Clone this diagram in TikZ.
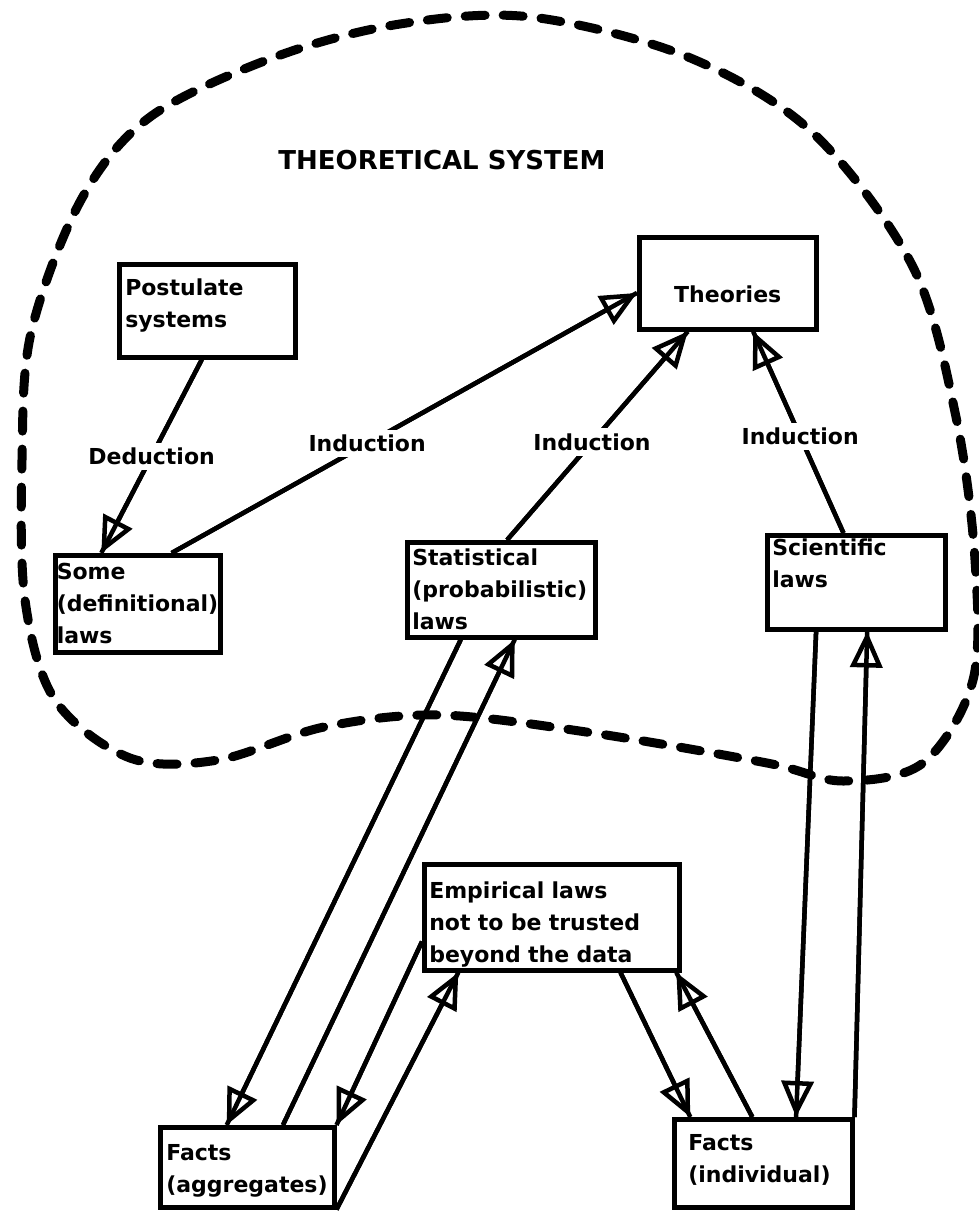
\documentclass[tikz,border=0pt]{standalone}
\usepackage{fontspec}
\setmainfont{DejaVu Sans}
\usetikzlibrary{arrows.meta,calc}
\newcommand{\bxfont}{\fontsize{22}{32}\selectfont\bfseries}
\newcommand{\ttlfont}{\fontsize{26}{30}\selectfont\bfseries}
\tikzset{
  box/.style  ={draw, line width=4.5pt, anchor=north west, inner xsep=6pt,
                inner ysep=0pt, align=left, font=\bxfont},
  lbl/.style  ={fill=white, inner sep=5pt, font=\bxfont},
  fl/.style   ={-{Triangle[open, length=36pt, width=32pt]}, line width=4.5pt,
                postaction={draw, -, line width=4.5pt}},
  blob/.style ={line width=9pt, dash pattern=on 20pt off 18pt, line cap=round},
}

\begin{document}
\begin{tikzpicture}[x=1pt, y=-1pt]
  \useasboundingbox (0,0) rectangle (978,1220);

  % dashed outline of the theoretical system
  \draw[blob] plot[smooth cycle, tension=0.55] coordinates {
      (531,17) (688,57) (813,133) (913,267) (956,417) (975,560) (973,680)
      (923,763) (843,781) (767,763) (593,733) (440,715) (324,727) (218,760)
      (130,758) (55,700) (25,600) (22,460) (31,333) (81,200) (150,117)
      (275,57) (400,24)};

  \node[font=\ttlfont] (title) at (442,160) {THEORETICAL SYSTEM};

  % boxes inside the system
  \node[box, minimum width=176pt, text width=164pt, minimum height=93pt,
        text height=31pt, text depth=62pt] (post) at (117,262) {Postulate\\systems};
  \node[box, align=center, minimum width=177pt, text width=165pt, minimum height=92pt,
        text height=65pt, text depth=27pt] (theo) at (637,235) {Theories};
  \node[box, inner xsep=1.5pt, minimum width=165pt, text width=162pt, minimum height=97pt,
        text height=24pt, text depth=73pt] (some) at (53,553) {Some\\(definitional)\\laws};
  \node[box, inner xsep=5pt, minimum width=188pt, text width=178pt, minimum height=95pt,
        text height=23pt, text depth=72pt] (stat) at (405,540) {Statistical\\(probabilistic)\\laws};
  \node[box, inner xsep=5pt, minimum width=178pt, text width=168pt, minimum height=94pt,
        text height=20pt, text depth=74pt] (sci) at (765,533) {Scientific\\laws};

  % boxes outside
  \node[box, inner xsep=5pt, minimum width=255pt, text width=245pt, minimum height=106pt,
        text height=34pt, text depth=72pt] (emp) at (422,862)
        {Empirical laws\\not to be trusted\\beyond the data};
  \node[box, minimum width=174pt, text width=162pt, minimum height=80pt,
        text height=33pt, text depth=47pt] (fagg) at (158,1125) {Facts\\(aggregates)};
  \node[box, inner xsep=14pt, minimum width=178pt, text width=150pt, minimum height=88pt,
        text height=31pt, text depth=57pt] (find) at (672,1117) {Facts\\(individual)};

  % arrows up to the theories
  \draw[fl] ($(post.south west)!.47!(post.south east)$) --
            ($(some.north west)!.285!(some.north east)$) node[lbl, pos=.5] (ded) {Deduction};
  \draw[fl] ($(some.north west)!.70!(some.north east)$) --
            ($(theo.north west)!.6!(theo.south west)$) node[lbl, pos=.42] (ind1) {Induction};
  \draw[fl] ($(stat.north west)!.53!(stat.north east)$) --
            ($(theo.south west)!.28!(theo.south east)$) node[lbl, pos=.47] (ind2) {Induction};
  \draw[fl] ($(sci.north west)!.43!(sci.north east)$) --
            ($(theo.south west)!.64!(theo.south east)$) node[lbl, pos=.48] (ind3) {Induction};

  % arrows between laws and facts
  \draw[fl] ($(stat.south west)!.29!(stat.south east)$) -- ($(fagg.north west)!.385!(fagg.north east)$);
  \draw[fl] ($(fagg.north west)!.70!(fagg.north east)$) -- ($(stat.south west)!.57!(stat.south east)$);
  \draw[fl] ($(emp.north west)!.72!(emp.south west)$) -- (fagg.north east);
  \draw[fl] (fagg.south east) -- ($(emp.south west)!.14!(emp.south east)$);
  \draw[fl] ($(emp.south west)!.765!(emp.south east)$) -- ($(find.north west)!.10!(find.north east)$);
  \draw[fl] ($(find.north west)!.44!(find.north east)$) -- ($(emp.south west)!.98!(emp.south east)$);
  \draw[fl] ($(sci.south west)!.28!(sci.south east)$) -- ($(find.north west)!.68!(find.north east)$);
  \draw[fl] (find.north east) -- ($(sci.south west)!.56!(sci.south east)$);
\end{tikzpicture}
\end{document}
